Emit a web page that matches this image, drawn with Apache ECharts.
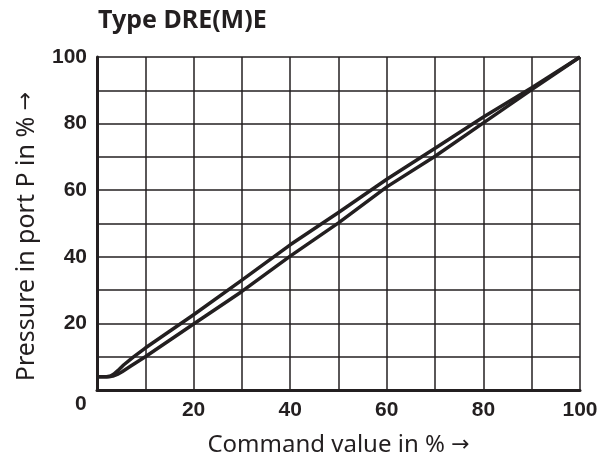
<!DOCTYPE html>
<html>
<head>
<meta charset="utf-8">
<script src="https://cdn.jsdelivr.net/npm/echarts@6/dist/echarts.min.js"></script>
<style>
  html, body { margin: 0; padding: 0; background: #fff; }
  #chart { width: 608px; height: 462px; }
</style>
</head>
<body>
<div id="chart"></div>
<script>
// command value (%) vs pressure in port P (%), two branches of the hysteresis loop
const upperCurve = [
  [0, 4], [2, 4], [2.8, 4.2], [3.5, 4.8], [4.3, 5.8], [5.5, 7.5], [7.5, 9.9], [10, 12.6],
  [20, 22.6], [30, 33], [40, 43.6], [50, 53.3], [60, 63.3],
  [70, 72.6], [80, 82], [90, 90.8], [100, 100]
];
const lowerCurve = [
  [0, 4], [2.5, 4], [3.3, 4.2], [4.2, 4.7], [5.2, 5.5], [7, 7.2], [10, 10],
  [20, 19.8], [30, 29.6], [40, 40.2], [50, 50.2], [60, 61],
  [70, 70.2], [80, 80.2], [90, 90.2], [100, 100]
];
const labelTicks = [20, 40, 60, 80, 100];

const ink = '#231f20';
const tickFont = {
  fontFamily: '"Liberation Sans Narrow", "Liberation Sans", Arial, sans-serif',
  fontWeight: 'bold',
  fontSize: 21,
  color: ink
};
const arrowRich = {
  arr: { fontFamily: '"DejaVu Sans", sans-serif', fontSize: 22, color: ink }
};

const chart = echarts.init(document.getElementById('chart'), null, { renderer: 'canvas' });

const showTick = (v) => labelTicks.indexOf(v) >= 0 ? String(v) : '';

const options = {
  animation: false,
  title: {
    text: 'Type DRE(M)E',
    left: 93,
    top: 3,
    textStyle: {
      fontFamily: '"Noto Sans", "Liberation Sans", sans-serif',
      fontWeight: 'bold',
      fontSize: 25,
      color: ink
    }
  },
  grid: {
    left: 97,
    right: 28,
    top: 57,
    bottom: 68,
    containLabel: false
  },
  xAxis: {
    type: 'value',
    min: 0,
    max: 100,
    interval: 10,
    name: 'Command value in % {arr|→}',
    nameLocation: 'middle',
    nameGap: 43,
    nameTextStyle: {
      fontFamily: '"Noto Sans", "Liberation Sans", sans-serif',
      fontSize: 24,
      color: ink,
      rich: arrowRich
    },
    axisLine: { show: true, onZero: false, lineStyle: { color: ink, width: 3 } },
    axisTick: { show: false },
    axisLabel: Object.assign({ margin: 10, formatter: showTick }, tickFont),
    splitLine: { show: true, lineStyle: { color: ink, width: 1.5 } }
  },
  yAxis: {
    type: 'value',
    min: 0,
    max: 100,
    interval: 10,
    name: 'Pressure in port P in % {arr|→}',
    nameLocation: 'middle',
    nameGap: 58,
    nameTextStyle: {
      fontFamily: '"Noto Sans", "Liberation Sans", sans-serif',
      fontSize: 25,
      color: ink,
      padding: [0, 26, 0, 0],
      rich: arrowRich
    },
    axisLine: { show: true, onZero: false, lineStyle: { color: ink, width: 3 } },
    axisTick: { show: false },
    axisLabel: Object.assign({ margin: 10, formatter: showTick }, tickFont),
    splitLine: { show: true, lineStyle: { color: ink, width: 1.5 } }
  },
  graphic: [
    {
      type: 'text',
      left: 75,
      top: 394,
      style: { text: '0', fill: ink,
        font: 'bold 21px "Liberation Sans Narrow", "Liberation Sans", Arial, sans-serif' }
    }
  ],
  series: [
    {
      name: 'upper',
      type: 'line',
      data: upperCurve,
      showSymbol: false,
      lineStyle: { color: ink, width: 3.5, join: 'round' },
      z: 5
    },
    {
      name: 'lower',
      type: 'line',
      data: lowerCurve,
      showSymbol: false,
      lineStyle: { color: ink, width: 3.5, join: 'round' },
      z: 5
    }
  ]
};

chart.setOption(options);
</script>
</body>
</html>
